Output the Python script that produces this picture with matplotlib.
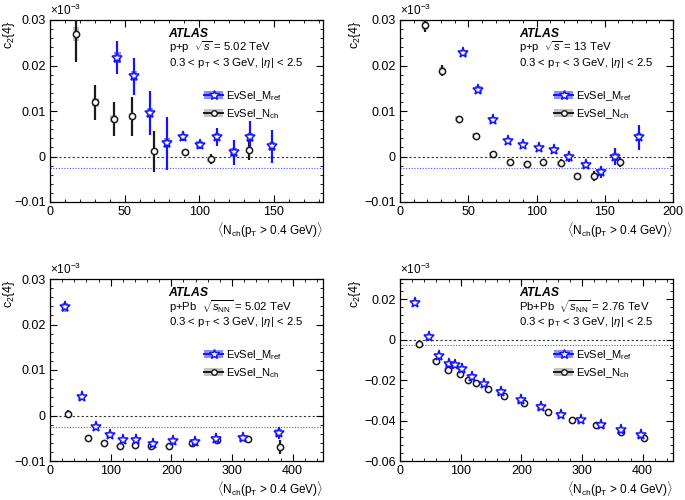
import numpy as np
import matplotlib
matplotlib.use("Agg")
import matplotlib.pyplot as plt
from matplotlib.patches import Patch
from matplotlib.lines import Line2D
from matplotlib.ticker import MultipleLocator, FuncFormatter

plt.rcParams['font.family'] = ['Liberation Sans', 'DejaVu Sans']
plt.rcParams['mathtext.fontset'] = 'custom'
plt.rcParams['mathtext.rm'] = 'Liberation Sans'
plt.rcParams['mathtext.it'] = 'Liberation Sans:italic'
plt.rcParams['mathtext.bf'] = 'Liberation Sans:bold'

# ---- p+p 5.02 TeV
pp5_m_x = [45.1, 56.2, 67.1, 78.4, 89.1, 100.4, 112.0, 123.1, 134.2, 148.9]
pp5_m_y = [0.0217, 0.0176, 0.0096, 0.0029, 0.0043, 0.0026, 0.0043, 0.0009, 0.0042, 0.0022]
pp5_m_stat = [0.0036, 0.0040, 0.0048, 0.0058, 0.0010, 0.0009, 0.0019, 0.0027, 0.0035, 0.0037]
pp5_m_sys = [0.0012, 0.0011, 0.0011, 0.0011, 0.0007, 0.0007, 0.0009, 0.0009, 0.0010, 0.0009]
pp5_n_x = [17.3, 30.4, 42.7, 55.1, 69.8, 90.2, 107.6, 133.3]
pp5_n_y = [0.0269, 0.0119, 0.0083, 0.0088, 0.0011, 0.0010, -0.0006, 0.0014]
pp5_n_stat = [0.0062, 0.0039, 0.0037, 0.0042, 0.0045, 0.0004, 0.0011, 0.0022]
pp5_n_sys = [0.0016, 0.0010, 0.0008, 0.0008, 0.0006, 0.0004, 0.0005, 0.0006]

# ---- p+p 13 TeV
pp13_m_x = [46.3, 57.3, 67.8, 79.0, 90.2, 101.7, 112.9, 123.9, 135.9, 147.0, 157.8, 175.0]
pp13_m_y = [0.0228, 0.0147, 0.0081, 0.0035, 0.0026, 0.0018, 0.0015, 0.0000, -0.0019, -0.0035, 0.0000, 0.0042]
pp13_m_stat = [0.0003, 0.0003, 0.0003, 0.0003, 0.0003, 0.0003, 0.0005, 0.0011, 0.0006, 0.0012, 0.0018, 0.0028]
pp13_m_sys = [0.0007, 0.0007, 0.0006, 0.0006, 0.0005, 0.0005, 0.0006, 0.0006, 0.0006, 0.0007, 0.0008, 0.0009]
pp13_n_x = [18.3, 30.7, 42.9, 55.4, 67.8, 80.5, 92.7, 105.0, 117.6, 130.0, 142.2, 161.0]
pp13_n_y = [0.0289, 0.0189, 0.0083, 0.0046, 0.0005, -0.0012, -0.0017, -0.0013, -0.0015, -0.0043, -0.0043, -0.0012]
pp13_n_stat = [0.0015, 0.0012, 0.0007, 0.0006, 0.0006, 0.0003, 0.0003, 0.0005, 0.0009, 0.0007, 0.0011, 0.0012]
pp13_n_sys = [0.0010, 0.0007, 0.0006, 0.0005, 0.0005, 0.0004, 0.0004, 0.0004, 0.0005, 0.0005, 0.0006, 0.0006]

# ---- p+Pb 5.02 TeV
ppb_m_x = [24.7, 52.0, 75.6, 98.6, 120.5, 142.5, 169.9, 202.7, 238.4, 274.0, 317.8, 377.0]
ppb_m_y = [0.0238, 0.0040, -0.0025, -0.0042, -0.0054, -0.0054, -0.0062, -0.0057, -0.0059, -0.0051, -0.0049, -0.0038]
ppb_m_stat = [0.0003, 0.0002, 0.0002, 0.0002, 0.0002, 0.0002, 0.0002, 0.0002, 0.0002, 0.0003, 0.0004, 0.0013]
ppb_m_sys = [0.0010, 0.0005, 0.0005, 0.0005, 0.0005, 0.0005, 0.0005, 0.0007, 0.0007, 0.0007, 0.0007, 0.0008]
ppb_n_x = [30.1, 63.0, 89.3, 115.0, 140.8, 167.0, 195.6, 234.5, 275.0, 326.0, 379.0]
ppb_n_y = [0.0004, -0.0049, -0.0060, -0.0067, -0.0064, -0.0067, -0.0067, -0.0060, -0.0054, -0.0052, -0.0069]
ppb_n_stat = [0.0007, 0.0002, 0.0002, 0.0002, 0.0002, 0.0002, 0.0002, 0.0003, 0.0003, 0.0004, 0.0015]
ppb_n_sys = [0.0004, 0.0003, 0.0003, 0.0003, 0.0003, 0.0003, 0.0003, 0.0004, 0.0004, 0.0004, 0.0005]

# ---- Pb+Pb 2.76 TeV
pbpb_m_x = [24.7, 47.8, 64.3, 80.2, 90.7, 101.6, 118.0, 139.0, 166.0, 198.9, 231.9, 264.8, 297.8, 331.9, 364.3, 396.7]
pbpb_m_y = [0.0183, 0.0013, -0.0082, -0.0122, -0.0127, -0.0145, -0.0185, -0.0221, -0.0259, -0.0300,
            -0.0333, -0.0371, -0.0399, -0.0424, -0.0448, -0.0473]
pbpb_m_stat = [0.0004] * 16
pbpb_m_sys = [0.0013] * 16
pbpb_n_x = [31.3, 58.8, 78.6, 98.9, 112.6, 125.3, 145.6, 171.4, 204.9, 244.5, 284.0, 323.0, 363.7, 402.0]
pbpb_n_y = [-0.0020, -0.0107, -0.0152, -0.0168, -0.0198, -0.0213, -0.0242, -0.0279, -0.0312, -0.0358,
            -0.0399, -0.0424, -0.0457, -0.0486]
pbpb_n_stat = [0.0004] * 14
pbpb_n_sys = [0.0010] * 14

blue = '#1414ff'
blue_box = '#8c8cff'
black = '#1a1a1a'
grey_box = '#c4c4c4'


def yfmt(v, pos):
    if abs(v) < 1e-9:
        return '0'
    return ('%.2f' % v).replace('-', '\u2212')


panels = [
    dict(pos=[0.073, 0.596, 0.3985, 0.364], xlim=(0, 183), ylim=(-0.01, 0.03),
         xmaj=50, xmin=10, ymaj=0.01, ymin=0.002, hw=2.2, ylx=-0.12,
         sys_label=r'p+p  $\sqrt{s}$ = 5.02 TeV',
         m=(pp5_m_x, pp5_m_y, pp5_m_stat, pp5_m_sys),
         n=(pp5_n_x, pp5_n_y, pp5_n_stat, pp5_n_sys)),
    dict(pos=[0.584, 0.596, 0.3985, 0.364], xlim=(0, 200), ylim=(-0.01, 0.03),
         xmaj=50, xmin=10, ymaj=0.01, ymin=0.002, hw=2.4, ylx=-0.135,
         sys_label=r'p+p  $\sqrt{s}$ = 13 TeV',
         m=(pp13_m_x, pp13_m_y, pp13_m_stat, pp13_m_sys),
         n=(pp13_n_x, pp13_n_y, pp13_n_stat, pp13_n_sys)),
    dict(pos=[0.073, 0.078, 0.3985, 0.364], xlim=(0, 450), ylim=(-0.01, 0.03),
         xmaj=100, xmin=20, ymaj=0.01, ymin=0.002, hw=5.5, ylx=-0.12,
         sys_label=r'p+Pb  $\sqrt{s_{\rm NN}}$ = 5.02 TeV',
         m=(ppb_m_x, ppb_m_y, ppb_m_stat, ppb_m_sys),
         n=(ppb_n_x, ppb_n_y, ppb_n_stat, ppb_n_sys)),
    dict(pos=[0.584, 0.078, 0.3985, 0.364], xlim=(0, 450), ylim=(-0.06, 0.03),
         xmaj=100, xmin=20, ymaj=0.02, ymin=0.004, hw=5.5, ylx=-0.135,
         sys_label=r'Pb+Pb  $\sqrt{s_{\rm NN}}$ = 2.76 TeV',
         m=(pbpb_m_x, pbpb_m_y, pbpb_m_stat, pbpb_m_sys),
         n=(pbpb_n_x, pbpb_n_y, pbpb_n_stat, pbpb_n_sys)),
]

fig = plt.figure(figsize=(6.85, 5.0), dpi=100)

for p in panels:
    ax = fig.add_axes(p['pos'])
    ax.set_xlim(*p['xlim'])
    ax.set_ylim(*p['ylim'])

    ax.axhline(0, color='#333333', ls=(0, (2, 2)), lw=0.8, zorder=1)
    ax.axhline(-0.0026, color='#4455ff', ls=(0, (1, 1.5)), lw=0.8, zorder=1)

    for key, ec, bc, mk, ms in [('n', black, grey_box, 'o', 4.5), ('m', blue, blue_box, '*', 8)]:
        x, y, st, sy = (np.array(a) for a in p[key])
        ax.bar(x, 2 * sy, bottom=y - sy, width=2 * p['hw'], color=bc, lw=0, zorder=2)
        ax.errorbar(x, y, yerr=st, fmt='none', ecolor=ec, elinewidth=1.6, capsize=0, zorder=3)
        ax.plot(x, y, ls='none', marker=mk, ms=ms, mfc='white', mec=ec, mew=1.1, zorder=4)

    ax.xaxis.set_major_locator(MultipleLocator(p['xmaj']))
    ax.xaxis.set_minor_locator(MultipleLocator(p['xmin']))
    ax.yaxis.set_major_locator(MultipleLocator(p['ymaj']))
    ax.yaxis.set_minor_locator(MultipleLocator(p['ymin']))
    ax.yaxis.set_major_formatter(FuncFormatter(yfmt))
    ax.tick_params(which='both', direction='in', top=True, right=True, labelsize=9, pad=3)
    ax.tick_params(which='major', length=5)
    ax.tick_params(which='minor', length=2.5)
    for s in ax.spines.values():
        s.set_linewidth(0.9)

    ax.text(0.0, 1.01, r'$\times10^{-3}$', transform=ax.transAxes, ha='left', va='bottom', fontsize=8.5)
    ax.set_ylabel(r'c$_2${4}', loc='top', fontsize=9)
    ax.yaxis.set_label_coords(p['ylx'], 1.0)
    ax.set_xlabel(r'$\langle$N$_{\rm ch}$(p$_{\rm T}$ > 0.4 GeV)$\rangle$', loc='right', fontsize=8.5, labelpad=2)

    ax.text(0.435, 0.925, 'ATLAS', transform=ax.transAxes, fontsize=8.8, fontweight='bold', style='italic', va='center')
    ax.text(0.435, 0.85, p['sys_label'], transform=ax.transAxes, fontsize=8.2, va='center')
    ax.text(0.435, 0.765, r'0.3 < p$_{\rm T}$ < 3 GeV, |$\eta$| < 2.5', transform=ax.transAxes, fontsize=8.2, va='center')

    h_m = (Patch(facecolor=blue_box, lw=0), Line2D([], [], color=blue, marker='*', ms=7, mfc='white', mec=blue, lw=1.4))
    h_n = (Patch(facecolor=grey_box, lw=0), Line2D([], [], color=black, marker='o', ms=4, mfc='white', mec=black, lw=1.4))
    ax.legend([h_m, h_n], [r'EvSel_M$_{\rm ref}$', r'EvSel_N$_{\rm ch}$'], loc='center left',
              bbox_to_anchor=(0.565, 0.533), frameon=False, fontsize=8, handlelength=1.7,
              handletextpad=0.3, labelspacing=0.35, borderpad=0, borderaxespad=0)

fig.savefig('out.png', dpi=100)
